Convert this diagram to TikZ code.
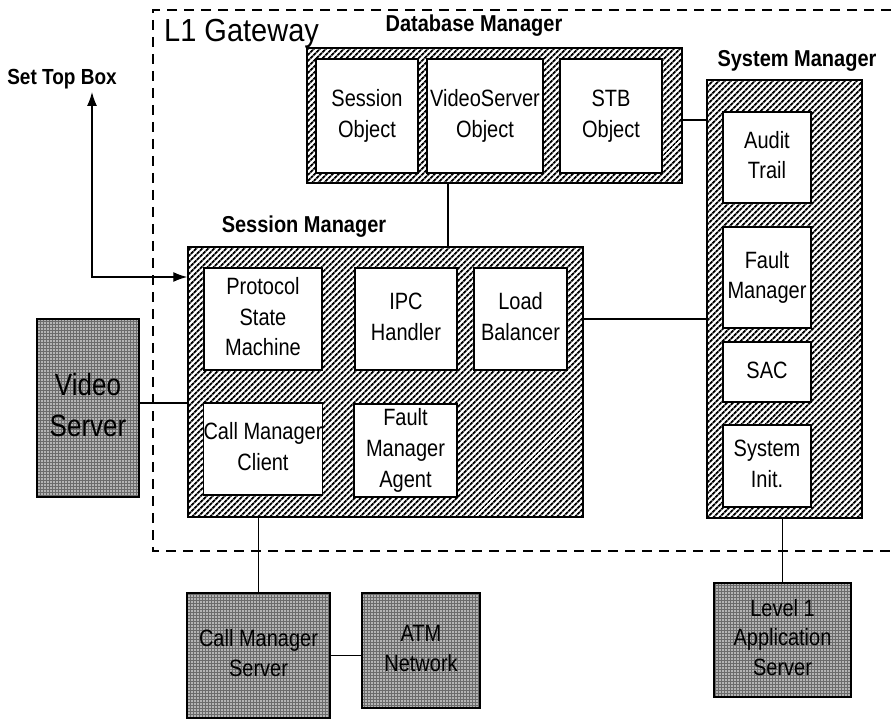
\documentclass[tikz,border=0pt]{standalone}
\usepackage{fontspec}
\usepackage{graphicx}
\setmainfont{Liberation Sans}
\usetikzlibrary{patterns.meta,arrows.meta}
\newcommand\vst[1]{\scalebox{1}[1.18]{\begin{tabular}{@{}c@{}}#1\end{tabular}}}
\begin{document}
\begin{tikzpicture}[x=1pt,y=-1pt,
 cont/.style={draw=black,line width=1.5pt,preaction={fill=white},pattern={Lines[angle=45,distance=4pt,line width=2.1pt]},inner sep=0pt},
 inbox/.style={draw=black,line width=1.5pt,fill=white,inner sep=0pt,align=center,font=\fontsize{20}{26}\selectfont},
 ext/.style={draw=black,line width=1.5pt,preaction={fill=black!58},pattern={Dots[distance=3pt,radius=0.8pt]},pattern color=white,inner sep=0pt,align=center,font=\fontsize{20}{25}\selectfont},
 lbl/.style={font=\bfseries\fontsize{20}{24}\selectfont,inner sep=0pt,anchor=base},
 conn/.style={line width=1.3pt},
 boundary/.style={line width=2.2pt,dash pattern=on 10pt off 7pt},
 tip/.style={{Latex[length=14pt,width=10pt]}-{Latex[length=14pt,width=10pt]}}
]
\useasboundingbox (0,0) rectangle (891,719);

% gateway boundary
\draw[boundary] (891,10) -- (153,10) -- (153,551) -- (891,551);
\node[font=\fontsize{29}{32}\selectfont,anchor=base west,inner sep=0pt] (gw) at (164,42) {\scalebox{1}[1.1]{L1 Gateway}};

% Database Manager
\node[cont,minimum width=375pt,minimum height=135pt] (db) at (494.5,115.5) {};
\node[lbl] (dblbl) at (474,32) {\scalebox{1}[1.15]{Database Manager}};
\node[inbox,minimum width=102pt,minimum height=114pt] (sobj) at (367,116) {\vst{Session\\Object}};
\node[inbox,minimum width=116pt,minimum height=114pt] (vsobj) at (485,116) {\vst{VideoServer\\Object}};
\node[inbox,minimum width=102pt,minimum height=114pt] (stbobj) at (611,116) {\vst{STB\\Object}};

% System Manager
\node[cont,minimum width=155pt,minimum height=438pt] (sys) at (784.5,299) {};
\node[lbl] (syslbl) at (797,67) {\scalebox{1}[1.15]{System Manager}};
\node[inbox,minimum width=88pt,minimum height=91pt] (audit) at (767,157.5) {\vst{Audit\\Trail}};
\node[inbox,minimum width=88pt,minimum height=101pt] (fmgr) at (767,277.5) {\vst{Fault\\Manager}};
\node[inbox,minimum width=88pt,minimum height=60pt] (sac) at (767,372) {\vst{SAC}};
\node[inbox,minimum width=88pt,minimum height=82pt] (sinit) at (767,466) {\vst{System\\Init.}};

% Session Manager
\node[cont,minimum width=395pt,minimum height=270pt] (smgr) at (385.5,382) {};
\node[lbl] (smgrlbl) at (304,233) {\scalebox{1}[1.15]{Session Manager}};
\node[inbox,minimum width=118pt,minimum height=102pt] (psm) at (263,319) {\vst{Protocol\\State\\Machine}};
\node[inbox,minimum width=102pt,minimum height=102pt] (ipc) at (406,319) {\vst{IPC\\Handler}};
\node[inbox,minimum width=93pt,minimum height=102pt] (lb) at (520.5,319) {\vst{Load\\Balancer}};
\node[inbox,minimum width=118pt,minimum height=92pt] (cmc) at (263,449) {\vst{Call Manager\\Client}};
\node[inbox,minimum width=103pt,minimum height=93pt] (fma) at (405.5,450.5) {\vst{Fault\\Manager\\Agent}};

% external entities
\node[ext,minimum width=102pt,minimum height=178pt,font=\fontsize{26}{34}\selectfont] (vs) at (88,408) {\vst{Video\\Server}};
\node[ext,minimum width=143pt,minimum height=125pt] (cms) at (258.5,655.5) {\vst{Call Manager\\Server}};
\node[ext,minimum width=118pt,minimum height=115pt] (atm) at (421,650.5) {\vst{ATM\\Network}};
\node[ext,minimum width=137pt,minimum height=114pt] (l1) at (782.5,640) {\vst{Level 1\\Application\\Server}};

\node[lbl,font=\bfseries\fontsize{19}{24}\selectfont] (stb) at (62,85) {\scalebox{1}[1.15]{Set Top Box}};

% connectors
\coordinate (stbtip) at (92,92);
\coordinate (arrY) at (0,277);
\coordinate (dbX) at (448,0);
\coordinate (y120) at (0,120);
\coordinate (y403) at (0,403);
\draw[conn,tip] (stbtip) |- (smgr.west |- arrY);
\draw[conn] (db.south -| dbX) -- (smgr.north -| dbX);
\draw[conn] (db.east |- y120) -- (sys.west |- y120);
\draw[conn] (smgr.east |- lb) -- (sys.west |- lb);
\draw[conn] (vs.east |- y403) -- (smgr.west |- y403);
\draw[conn] (smgr.south -| cms) -- (cms.north);
\draw[conn] (cms.east) -- (atm.west |- cms.east);
\draw[conn] (sys.south -| l1) -- (l1.north);
\end{tikzpicture}
\end{document}
